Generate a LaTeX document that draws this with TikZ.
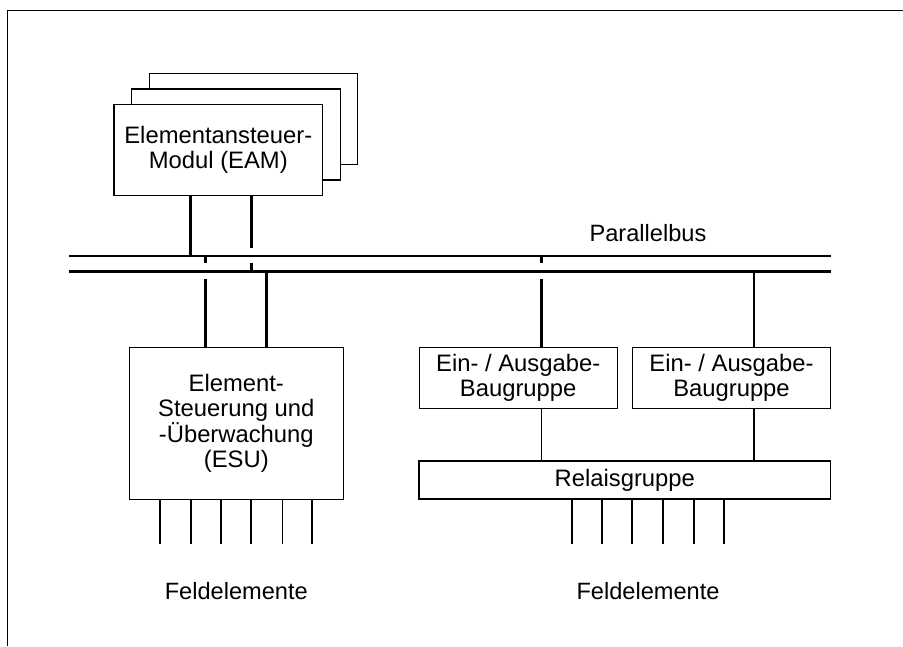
\documentclass[tikz,border=0pt]{standalone}
\usepackage{fontspec}
\setmainfont{Liberation Sans}
\begin{document}
\begin{tikzpicture}[x=1pt,y=-1pt,
  box/.style={draw, fill=white, line width=1.1pt, inner sep=0pt, outer sep=0pt,
    align=center, font=\fontsize{23.8}{25.6}\selectfont},
  lbl/.style={inner sep=0pt, anchor=base, font=\fontsize{23.6}{25.6}\selectfont},
  busline/.style={line width=2.7pt},
  tap/.style={line width=2.5pt},
  wire/.style={line width=1.6pt}]
\useasboundingbox (0,0) rectangle (903,646);

% page frame
\draw[line width=1.5pt] (903,10.7) -- (7.3,10.7) -- (7.3,646);

% stacked module cards (back to front)
\node[box, minimum width=208.4pt, minimum height=91pt] (eamc) at (253.5,118.8) {};
\node[box, minimum width=208.6pt, minimum height=91pt] (eamb) at (236.0,134.5) {};
\node[box, minimum width=208.7pt, minimum height=90.7pt] (eam) at (218.3,149.7)
  {Elementansteuer-\\Modul (EAM)};

% parallel bus
\coordinate (busAw) at (69.3,256);
\coordinate (busAe) at (831,256);
\coordinate (busBw) at (69.3,271.7);
\coordinate (busBe) at (831,271.7);
\draw[busline] (busAw) -- (busAe);
\draw[busline] (busBw) -- (busBe);
\node[lbl] (pbus) at (648,241.7) {Parallelbus};

% processing boxes
\node[box, minimum width=214pt, minimum height=152pt] (esu) at (236.3,423.3)
  {Element-\\Steuerung und\\-Überwachung\\(ESU)};
\node[box, minimum width=198.3pt, minimum height=61pt] (io1) at (518.2,377.8)
  {Ein- / Ausgabe-\\Baugruppe};
\node[box, minimum width=198.4pt, minimum height=61pt] (io2) at (731.5,377.8)
  {Ein- / Ausgabe-\\Baugruppe};
\node[box, minimum width=411.7pt, minimum height=38pt] (rel) at (624.8,480)
  {Relaisgruppe};

% bus taps: EAM
\draw[tap] (eam.south -| 190.3,0) -- (busAw -| 190.3,0);
\draw[tap] (eam.south -| 251.7,0) -- (251.7,248.3);
\draw[tap] (251.7,263.3) -- (busBw -| 251.7,0);

% bus taps: ESU
\draw[tap] (busAw -| 205.7,0) -- (205.7,263.3);
\draw[tap] (205.7,279.3) -- (esu.north -| 205.7,0);
\draw[tap] (busBw -| 266.7,0) -- (esu.north -| 266.7,0);

% bus taps: I/O modules
\draw[tap] (busAw -| 541.4,0) -- (541.4,263.3);
\draw[tap] (541.4,279.3) -- (io1.north -| 541.4,0);
\draw[tap] (busBw -| 754.2,0) -- (io2.north -| 754.2,0);

% I/O modules to relay group
\draw[wire] (io1.south -| 541.4,0) -- (rel.north -| 541.4,0);
\draw[wire] (io2.south -| 754.2,0) -- (rel.north -| 754.2,0);

% field element wires
\foreach \x in {160,190.7,221,250.7,282.3,312}
  \draw[wire] (esu.south -| \x,0) -- (\x,544);
\foreach \x in {572,602,632,663,694,723.7}
  \draw[wire] (rel.south -| \x,0) -- (\x,544);

\node[lbl] (fe1) at (236.3,599) {Feldelemente};
\node[lbl] (fe2) at (648,599) {Feldelemente};
\end{tikzpicture}
\end{document}
